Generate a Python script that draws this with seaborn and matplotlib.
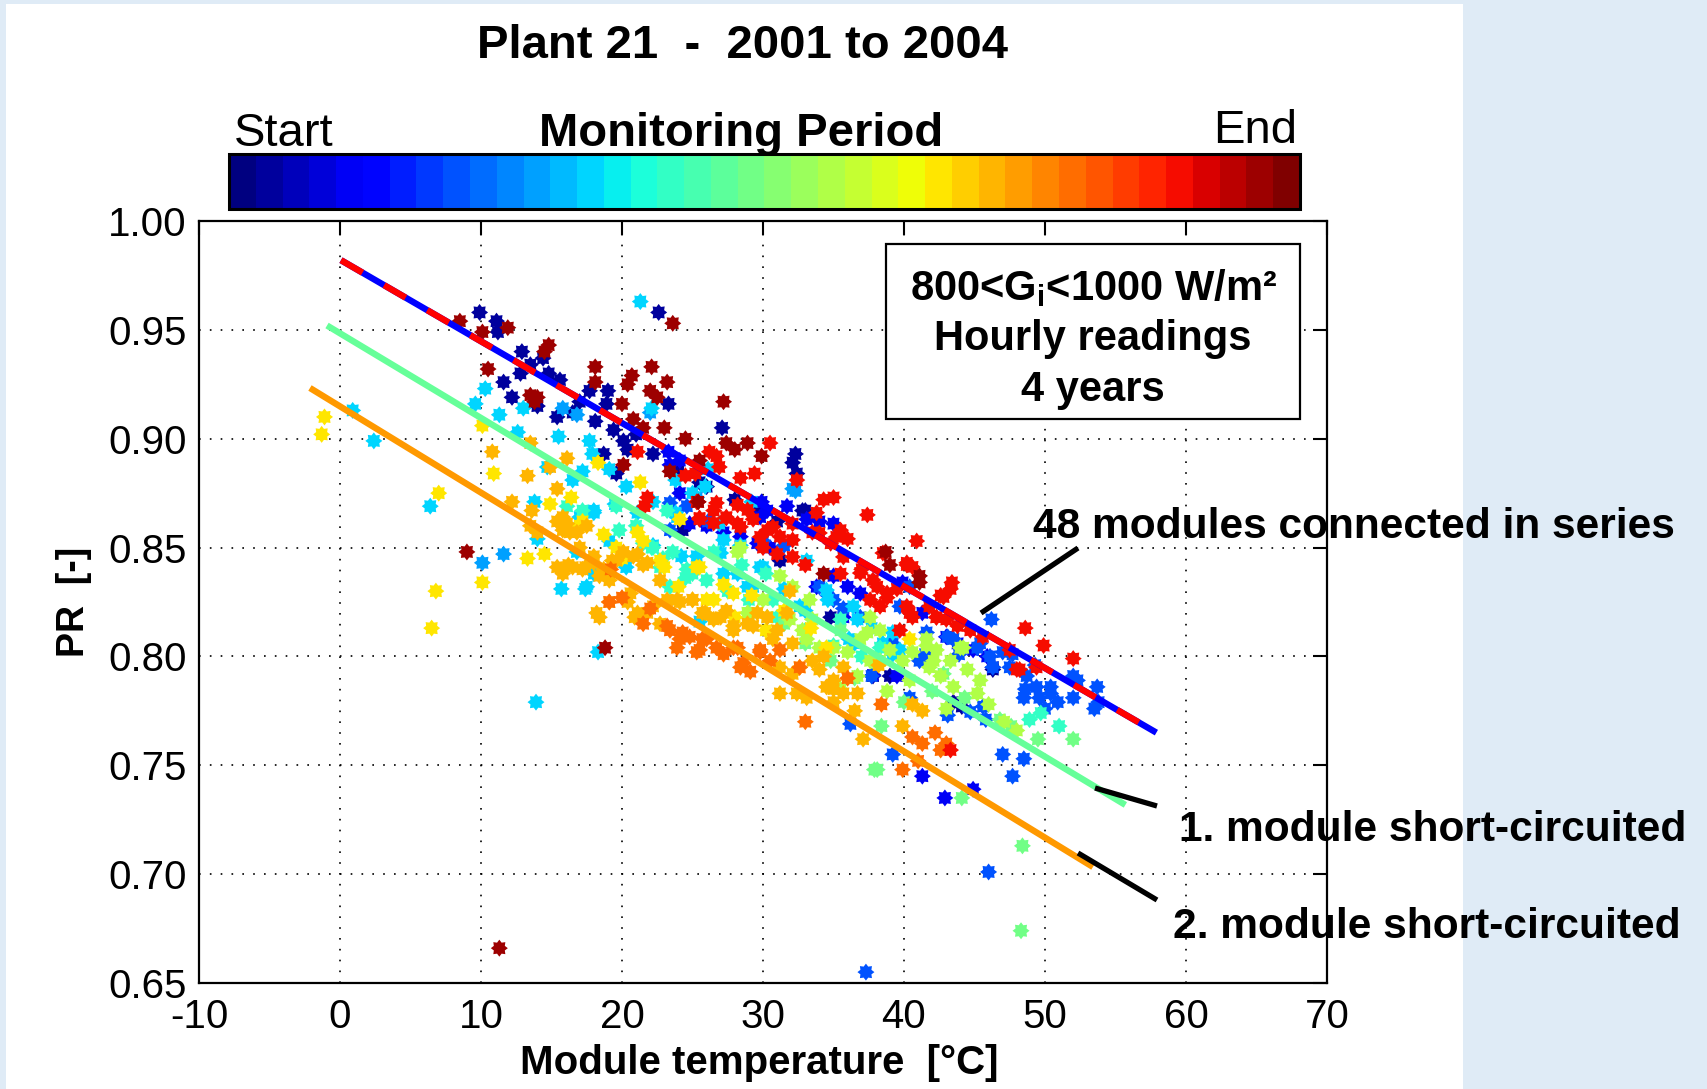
import numpy as np
import pandas as pd
import matplotlib
matplotlib.use("Agg")
import matplotlib.pyplot as plt
import seaborn as sns
from matplotlib.path import Path
from matplotlib.patches import Rectangle
from matplotlib.cm import ScalarMappable
from matplotlib.colors import Normalize

# ---------------- data ----------------
# period value (0 = start, 1 = end) of each colour group
navy_p, blue_p, azure_p, lblue_p, cyan_p, turq_p = 0.03, 0.12, 0.21, 0.29, 0.34, 0.41
green_p, ygreen_p, yellow_p, orange_p, dorange_p, red_p, dred_p = 0.48, 0.56, 0.66, 0.72, 0.79, 0.88, 0.97

navy_t = [9.9, 11.1, 11.2, 12.9, 14.4, 12.8, 11.6, 14.8, 15.6, 12.2, 15.4, 14.0, 17.7, 19.0, 23.3, 18.9,
          18.1, 19.4, 27.1, 20.1, 20.4, 18.7, 22.2, 19.6, 32.3, 32.1, 33.0, 22.6, 16.5, 21.0, 24.0, 26.0,
          28.0, 29.5, 31.0, 37.8, 46.3, 43.5, 44.1, 39.0, 17.0, 13.5,
          32.8, 31.2, 34.8, 24.3, 25.5, 32.4, 46.3]
navy_pr = [0.958, 0.954, 0.949, 0.940, 0.937, 0.930, 0.926, 0.930, 0.927, 0.919, 0.910, 0.915, 0.922, 0.922, 0.916, 0.916,
           0.908, 0.904, 0.905, 0.899, 0.895, 0.893, 0.893, 0.884, 0.893, 0.889, 0.867, 0.958, 0.912, 0.902, 0.885, 0.878,
           0.872, 0.866, 0.862, 0.791, 0.795, 0.779, 0.777, 0.791, 0.917, 0.934,
           0.867, 0.844, 0.818, 0.858, 0.880, 0.884, 0.794]

blue_t = [23.3, 24.1, 24.8, 26.0, 27.2, 28.4, 29.6, 30.3, 31.7, 33.1, 34.0, 35.0, 29.9, 24.1, 39.9, 41.3,
          43.0, 43.8, 44.9, 45.9, 35.0, 33.8, 42.9, 41.3, 44.9, 37.8,
          29.8, 30.5, 36.0, 36.9, 35.7, 39.5, 23.4]
blue_pr = [0.894, 0.890, 0.861, 0.860, 0.857, 0.855, 0.852, 0.867, 0.869, 0.863, 0.862, 0.861, 0.871, 0.875, 0.834, 0.820,
           0.809, 0.806, 0.803, 0.800, 0.837, 0.832, 0.735, 0.745, 0.739, 0.7915,
           0.864, 0.850, 0.832, 0.829, 0.818, 0.791, 0.888]

azure_t = [37.3, 46.0, 47.7, 36.2, 47.0, 47.5, 48.7, 49.4, 50.4, 50.9, 49.6, 48.6, 52.3, 53.7, 53.8, 46.2,
           46.3, 43.1, 45.4, 47.7, 49.3, 50.4, 52.0, 48.5, 50.0, 43.9, 41.5, 39.2, 37.7, 40.4, 43.1, 45.8,
           35.7, 36.9, 34.6, 53.5, 52.0, 23.4, 26.1, 30.0, 31.5, 44.7, 45.6, 39.2, 47.0, 48.5, 23.4, 24.6,
           34.0, 35.0, 40.4, 39.7, 41.6, 43.5, 45.2, 46.1, 41.1]
azure_pr = [0.655, 0.701, 0.745, 0.769, 0.802, 0.795, 0.791, 0.786, 0.783, 0.779, 0.781, 0.785, 0.789, 0.786, 0.779, 0.817,
            0.795, 0.809, 0.806, 0.801, 0.796, 0.786, 0.791, 0.781, 0.776, 0.801, 0.801, 0.806, 0.791, 0.781, 0.773, 0.771,
            0.822, 0.818, 0.828, 0.776, 0.781, 0.858, 0.862, 0.853, 0.851, 0.7745, 0.777, 0.755, 0.755, 0.753, 0.8705, 0.869,
            0.832, 0.826, 0.832, 0.823, 0.811, 0.808, 0.804, 0.800, 0.798]

lblue_t = [10.1, 11.6, 15.8, 16.8, 22.0, 32.1, 32.3, 25.3]
lblue_pr = [0.843, 0.847, 0.914, 0.911, 0.912, 0.877, 0.876, 0.873]

cyan_t = [10.3, 9.6, 11.3, 13.0, 12.6, 15.5, 14.7, 16.5, 17.2, 13.8, 14.0, 17.4, 13.9, 17.5, 21.3, 17.7,
          17.9, 25.9, 0.9, 2.4, 6.4, 19.1, 20.3, 22.2, 23.8, 26.9, 28.4, 30.0, 31.5, 33.0, 34.6, 36.1,
          37.7, 39.2, 29.2, 26.1, 23.8, 21.1, 22.2, 19.1, 18.0, 16.8, 15.7, 18.0, 20.3, 24.2, 34.5, 29.3,
          27.2, 25.5, 36.5, 38.5, 22.1, 19.5, 18.3,
          18.0, 25.0, 23.9, 27.2, 27.0, 28.2, 29.8, 28.9, 33.1, 32.6, 36.4, 36.7, 39.2, 39.7, 25.3, 17.0]
cyan_pr = [0.923, 0.916, 0.911, 0.914, 0.903, 0.901, 0.887, 0.881, 0.885, 0.871, 0.854, 0.831, 0.779, 0.832, 0.963, 0.899,
           0.893, 0.878, 0.913, 0.899, 0.869, 0.886, 0.878, 0.871, 0.866, 0.861, 0.851, 0.841, 0.831, 0.821, 0.826, 0.808,
           0.813, 0.801, 0.871, 0.886, 0.881, 0.866, 0.851, 0.853, 0.866, 0.848, 0.831, 0.838, 0.841, 0.846, 0.8305, 0.832,
           0.838, 0.816, 0.806, 0.806, 0.914, 0.870, 0.802,
           0.867, 0.875, 0.864, 0.8535, 0.8475, 0.838, 0.841, 0.832, 0.844, 0.823, 0.823, 0.817, 0.811, 0.803, 0.846, 0.864]

turq_t = [22.1, 22.9, 23.6, 16.1, 17.2, 21.0, 25.0, 27.5, 29.0, 31.0, 33.0, 35.0, 37.0, 30.2, 26.5, 28.5,
          19.8, 48.9, 49.7, 51.0,
          19.6, 23.2, 22.2, 22.7, 24.6, 26.0, 30.7, 35.5, 38.3, 23.4, 21.5, 24.5]
turq_pr = [0.850, 0.845, 0.848, 0.869, 0.867, 0.860, 0.838, 0.830, 0.826, 0.818, 0.812, 0.805, 0.800, 0.838, 0.848, 0.842,
           0.858, 0.771, 0.774, 0.768,
           0.869, 0.867, 0.850, 0.841, 0.840, 0.835, 0.826, 0.817, 0.804, 0.832, 0.852, 0.836]

green_t = [48.4, 48.3, 44.1, 37.9, 38.1, 38.4, 52.0, 44.3, 46.8, 40.0, 33.0, 31.5, 34.8, 36.5, 42.0, 47.6,
           49.5, 29.0, 35.5, 42.8]
green_pr = [0.713, 0.674, 0.735, 0.748, 0.748, 0.768, 0.762, 0.781, 0.771, 0.779, 0.806, 0.815, 0.798, 0.790, 0.784, 0.768,
            0.762, 0.820, 0.812, 0.792]

ygreen_t = [41.6, 42.3, 43.3, 44.0, 44.5, 45.4, 45.2, 43.5, 42.6, 41.8, 40.6, 39.9, 40.4, 39.0, 38.1, 38.3,
            37.6, 34.0, 35.0, 36.0, 36.9, 37.6, 36.7, 31.2, 32.1, 33.3, 31.9, 28.2, 46.0, 47.1, 48.0, 43.0,
            35.5, 38.8, 30.0, 32.8,
            28.4, 28.9, 30.3, 33.5, 33.1, 37.4, 38.3, 41.6, 42.1, 44.2]
ygreen_pr = [0.808, 0.803, 0.798, 0.804, 0.794, 0.789, 0.783, 0.786, 0.791, 0.795, 0.802, 0.798, 0.789, 0.803, 0.797, 0.812,
             0.818, 0.804, 0.804, 0.802, 0.808, 0.798, 0.791, 0.837, 0.832, 0.826, 0.817, 0.848, 0.778, 0.770, 0.766, 0.776,
             0.785, 0.784, 0.826, 0.812,
             0.850, 0.820, 0.818, 0.817, 0.808, 0.811, 0.798, 0.805, 0.798, 0.804]

yellow_t = [-1.1, -1.3, 6.8, 6.5, 7.0, 10.1, 10.1, 13.3, 14.5, 18.3, 21.3, 10.9, 17.2, 18.7, 21.5, 23.0,
            25.3, 27.2, 29.2, 31.5, 33.4, 14.9, 16.4, 24.0, 26.0, 28.0, 30.2, 20.0,
            24.1, 21.1, 17.0, 19.6, 22.7, 25.5, 26.5, 27.9, 34.5, 40.4]
yellow_pr = [0.910, 0.902, 0.830, 0.813, 0.875, 0.906, 0.834, 0.845, 0.847, 0.889, 0.880, 0.884, 0.862, 0.856, 0.853, 0.841,
             0.841, 0.833, 0.828, 0.821, 0.813, 0.870, 0.873, 0.832, 0.826, 0.818, 0.812, 0.845,
             0.863, 0.857, 0.860, 0.850, 0.844, 0.841, 0.826, 0.829, 0.804, 0.808]

orange_t = [10.8, 13.5, 16.1, 14.9, 13.3, 15.4, 12.2, 13.6, 15.4, 16.1, 15.8, 16.8, 17.5, 13.5, 14.0, 15.4,
            16.2, 15.8, 17.2, 17.4, 18.4, 19.3, 20.1, 21.1, 21.5, 19.1, 20.4, 20.9, 18.4, 21.8, 22.7, 23.2,
            24.1, 25.0, 25.7, 26.5, 27.4, 27.9, 28.9, 29.6, 30.3, 31.0, 31.7, 32.1, 31.2, 32.4, 33.1, 34.0,
            34.5, 35.0, 35.7, 35.0, 36.7, 36.5, 37.1, 32.6, 35.7, 34.3, 38.2, 40.6, 41.3, 39.9, 17.0, 18.0,
            15.8, 16.3, 16.5, 18.7, 18.0, 19.6, 20.8, 21.8, 19.1, 20.6, 18.2, 21.1, 22.2, 22.7, 23.9, 25.0,
            25.9, 27.0, 27.9, 29.3, 30.7, 31.2, 32.1, 33.5, 35.0, 31.9]
orange_pr = [0.894, 0.898, 0.891, 0.887, 0.883, 0.877, 0.871, 0.867, 0.862, 0.861, 0.858, 0.857, 0.860, 0.860, 0.857, 0.841,
             0.842, 0.838, 0.840, 0.841, 0.837, 0.844, 0.848, 0.847, 0.842, 0.825, 0.825, 0.818, 0.818, 0.820, 0.835, 0.826,
             0.825, 0.826, 0.820, 0.817, 0.821, 0.814, 0.815, 0.820, 0.818, 0.812, 0.820, 0.806, 0.783, 0.783, 0.781, 0.794,
             0.786, 0.785, 0.783, 0.779, 0.783, 0.775, 0.762, 0.795, 0.795, 0.800, 0.796, 0.778, 0.775, 0.768, 0.850, 0.843,
             0.864, 0.857, 0.841, 0.840, 0.846, 0.844, 0.846, 0.843, 0.835, 0.829, 0.820, 0.820, 0.823, 0.815, 0.826, 0.826,
             0.820, 0.818, 0.812, 0.814, 0.808, 0.795, 0.792, 0.798, 0.789, 0.830]

dorange_t = [23.4, 24.1, 23.9, 24.8, 25.5, 26.0, 27.2, 28.4, 29.1, 28.2, 29.8, 30.5, 31.2, 20.0, 22.0, 21.5,
             33.0, 38.4, 40.6, 41.3, 43.0, 42.2, 42.6, 39.9, 41.0, 36.0, 19.2,
             19.1, 23.2, 24.3, 25.7, 25.3, 26.7, 27.9, 28.6, 29.8, 32.6]
dorange_pr = [0.812, 0.808, 0.804, 0.809, 0.803, 0.808, 0.801, 0.795, 0.793, 0.804, 0.803, 0.798, 0.803, 0.827, 0.822, 0.815,
              0.770, 0.778, 0.763, 0.760, 0.760, 0.765, 0.757, 0.748, 0.752, 0.790, 0.840,
              0.825, 0.814, 0.811, 0.808, 0.802, 0.804, 0.804, 0.797, 0.802, 0.795]

red_t = [40.9, 40.2, 43.4, 43.3, 42.6, 48.6, 49.9, 52.0, 48.2, 26.2, 26.7, 21.1, 30.5, 26.9, 28.4, 29.4,
         32.4, 21.8, 21.6, 24.5, 25.2, 25.4, 34.3, 35.0, 37.4, 33.8, 25.3, 26.5, 27.4, 28.2, 29.3, 30.3,
         31.2, 32.1, 33.5, 34.8, 35.5, 36.0, 25.5, 38.1, 38.8, 39.5, 38.3, 40.2, 40.6, 41.8, 42.3, 43.0,
         43.8, 44.7, 45.6, 47.5, 48.0, 49.4, 43.3, 31.0, 33.0, 35.5, 37.0, 30.0, 39.7,
         25.5, 26.5, 27.4, 28.4, 26.7, 28.2, 28.9, 29.8, 30.7, 32.1, 34.0, 35.2, 32.1, 35.7, 36.9, 37.8,
         38.8, 37.6, 40.4, 42.3, 42.8, 40.6, 38.5, 40.2]
red_pr = [0.853, 0.842, 0.834, 0.831, 0.828, 0.813, 0.805, 0.799, 0.794, 0.894, 0.892, 0.894, 0.898, 0.887, 0.882, 0.884,
          0.881, 0.873, 0.869, 0.883, 0.884, 0.871, 0.872, 0.873, 0.865, 0.866, 0.871, 0.867, 0.864, 0.861, 0.863, 0.858,
          0.855, 0.861, 0.857, 0.852, 0.858, 0.854, 0.863, 0.832, 0.827, 0.831, 0.823, 0.823, 0.818, 0.823, 0.818, 0.817,
          0.814, 0.812, 0.809, 0.803, 0.794, 0.795, 0.757, 0.847, 0.842, 0.838, 0.840, 0.850, 0.812,
          0.8636, 0.8613, 0.8636, 0.8595, 0.8705, 0.8696, 0.8673, 0.8549, 0.8595, 0.8535, 0.8567, 0.8549, 0.8457, 0.8457, 0.8383, 0.8351,
          0.8291, 0.826, 0.820, 0.818, 0.8273, 0.8411, 0.8475, 0.843]

dred_t = [8.5, 11.9, 10.1, 14.8, 14.5, 10.5, 13.5, 14.0, 13.8, 9.0, 11.3, 18.1, 18.1, 22.1, 20.7, 20.4,
          23.2, 22.0, 22.5, 20.0, 27.2, 20.8, 21.5, 23.0, 24.5, 27.4, 28.9, 29.9, 20.1, 23.4, 23.6, 18.8,
          38.7, 39.0, 41.1, 41.1, 28.0, 25.5, 34.3, 25.4]
dred_pr = [0.954, 0.951, 0.949, 0.943, 0.940, 0.932, 0.920, 0.919, 0.917, 0.848, 0.666, 0.933, 0.926, 0.933, 0.929, 0.925,
           0.926, 0.922, 0.919, 0.916, 0.917, 0.909, 0.905, 0.905, 0.900, 0.898, 0.898, 0.892, 0.888, 0.885, 0.953, 0.804,
           0.848, 0.842, 0.837, 0.834, 0.895, 0.890, 0.838, 0.871]

# fitted lines (temperature range and PR at both ends)
fit_all_t = [0.07, 57.9]
fit_all_pr = [0.982, 0.765]
fit_one_t = [-0.92, 55.7]
fit_one_pr = [0.952, 0.7318]
fit_two_t = [-2.13, 53.4]
fit_two_pr = [0.9233, 0.7033]

x_ticks = [-10, 0, 10, 20, 30, 40, 50, 60, 70]
y_ticks = [0.65, 0.70, 0.75, 0.80, 0.85, 0.90, 0.95, 1.00]

groups = [(navy_t, navy_pr, navy_p), (blue_t, blue_pr, blue_p), (azure_t, azure_pr, azure_p),
          (lblue_t, lblue_pr, lblue_p), (cyan_t, cyan_pr, cyan_p), (turq_t, turq_pr, turq_p),
          (green_t, green_pr, green_p), (ygreen_t, ygreen_pr, ygreen_p), (yellow_t, yellow_pr, yellow_p),
          (orange_t, orange_pr, orange_p), (dorange_t, dorange_pr, dorange_p), (red_t, red_pr, red_p),
          (dred_t, dred_pr, dred_p)]
frames = [pd.DataFrame({"temp": t, "pr": p, "period": v}) for t, p, v in groups]
df = pd.concat(frames, ignore_index=True)

# ---------------- figure ----------------
sns.set_theme(style="white")
plt.rcParams["font.family"] = ["Liberation Sans", "DejaVu Sans"]
plt.rcParams["mathtext.fontset"] = "custom"
plt.rcParams["mathtext.rm"] = "Liberation Sans"
plt.rcParams["mathtext.bf"] = "Liberation Sans:bold"
plt.rcParams["axes.unicode_minus"] = False

W, H = 1708, 1089
fig = plt.figure(figsize=(W / 100, H / 100), dpi=100, facecolor="#DFEBF6")
fig.add_artist(Rectangle((6 / W, 0), (1463 - 6) / W, (H - 4) / H, transform=fig.transFigure,
                         facecolor="white", edgecolor="none", zorder=-5))

def fx(px):
    return px / W

def fy(py):
    return 1 - py / H

ax = fig.add_axes([fx(199), fy(983), (1327 - 199) / W, (983 - 221) / H])
ax.set_facecolor("white")

cmap40 = plt.get_cmap("jet", 40)

n = 8
ang = np.linspace(0, 2 * np.pi, 2 * n, endpoint=False) + np.pi / 2
rad = np.where(np.arange(2 * n) % 2 == 0, 1.0, 0.70)
verts = np.column_stack([rad * np.cos(ang), rad * np.sin(ang)])
verts = np.vstack([verts, verts[:1]])
codes = [Path.MOVETO] + [Path.LINETO] * (2 * n - 1) + [Path.CLOSEPOLY]
star = Path(verts, codes)

sns.scatterplot(data=df, x="temp", y="pr", hue="period", palette=cmap40, hue_norm=(0, 1),
                marker=star, s=150, linewidth=0, edgecolor="none", legend=False, ax=ax, zorder=1)

lw = 4.6
ax.plot(fit_all_t, fit_all_pr, color="#0000FF", lw=lw, solid_capstyle="butt", zorder=2)
ax.plot(fit_all_t, fit_all_pr, color="#FF0000", lw=lw, dashes=(3.9, 3.9), dash_capstyle="butt", zorder=2.05)
ax.plot(fit_one_t, fit_one_pr, color="#66FF99", lw=lw, solid_capstyle="butt", zorder=2)
ax.plot(fit_two_t, fit_two_pr, color="#FF9900", lw=lw, solid_capstyle="butt", zorder=2)

ax.set_xlim(-10, 70)
ax.set_ylim(0.65, 1.00)
ax.set_xticks(x_ticks)
ax.set_yticks(y_ticks)
ax.set_xticklabels([str(v) for v in x_ticks])
ax.set_yticklabels([f"{v:.2f}" for v in y_ticks])
ax.grid(True, color="black", linestyle=(0, (1, 5.5)), linewidth=1.2)
ax.set_axisbelow(True)
ax.tick_params(direction="in", length=10, width=1.5, top=True, right=True, colors="black", labelsize=29)
ax.tick_params(axis="x", pad=11)
ax.tick_params(axis="y", pad=9)
for sp in ax.spines.values():
    sp.set_visible(True)
    sp.set_color("black")
    sp.set_linewidth(1.6)

ax.set_xlabel("Module temperature  [°C]", fontsize=29, fontweight="bold", color="black", va="center")
ax.xaxis.set_label_coords((697 * 1708 / 1568 - 199) / 1128, (983 - 1063) / 762)
ax.set_ylabel("PR  [-]", fontsize=27, fontweight="bold", color="black", va="center")
ax.yaxis.set_label_coords((74 - 199) / 1128, 0.5)

# colour bar of the monitoring period
cax = fig.add_axes([fx(229), fy(209), (1300 - 229) / W, 55 / H])
cb = fig.colorbar(ScalarMappable(norm=Normalize(0, 1), cmap=cmap40), cax=cax, orientation="horizontal")
cb.set_ticks([])
cb.outline.set_linewidth(2.2)
cb.outline.set_edgecolor("black")

fig.text(fx(743), fy(46), "Plant 21  -  2001 to 2004", ha="center", va="center",
         fontsize=34, fontweight="bold", color="black")
fig.text(fx(234), fy(146), "Start", ha="left", va="baseline", fontsize=34, color="black")
fig.text(fx(741), fy(146), "Monitoring Period", ha="center", va="baseline", fontsize=34,
         fontweight="bold", color="black")
fig.text(fx(1297), fy(143), "End", ha="right", va="baseline", fontsize=34, color="black")

# info box
ax.add_patch(Rectangle((fx(886), fy(419)), (1300 - 886) / W, (419 - 244) / H, transform=fig.transFigure,
                       facecolor="white", edgecolor="black", lw=1.6, zorder=2.3, clip_on=False))
box_lines = [(r"800<G$_\mathbf{i}$<1000 W/m²", 300), ("Hourly readings", 350), ("4 years", 401)]
for txt, by in box_lines:
    ax.text(fx(1093), fy(by), txt, transform=fig.transFigure, ha="center", va="baseline",
            fontsize=30, fontweight="bold", color="black", zorder=2.4, clip_on=False)

# annotations
notes = [("48 modules connected in series", 1033, 538),
         ("1. module short-circuited", 1179, 841),
         ("2. module short-circuited", 1173, 938)]
for txt, lx, by in notes:
    ax.text(fx(lx), fy(by), txt, transform=fig.transFigure, ha="left", va="baseline",
            fontsize=30.6, fontweight="bold", color="black", zorder=2.2, clip_on=False)
leaders = [((981, 613), (1078, 548)), ((1095, 788), (1157, 806)), ((1078, 853), (1157, 900))]
for (x1, y1), (x2, y2) in leaders:
    ax.plot([fx(x1), fx(x2)], [fy(y1), fy(y2)], transform=fig.transFigure, color="black",
            lw=3.8, solid_capstyle="butt", zorder=2.2, clip_on=False)

fig.savefig("out.png", dpi=100)
